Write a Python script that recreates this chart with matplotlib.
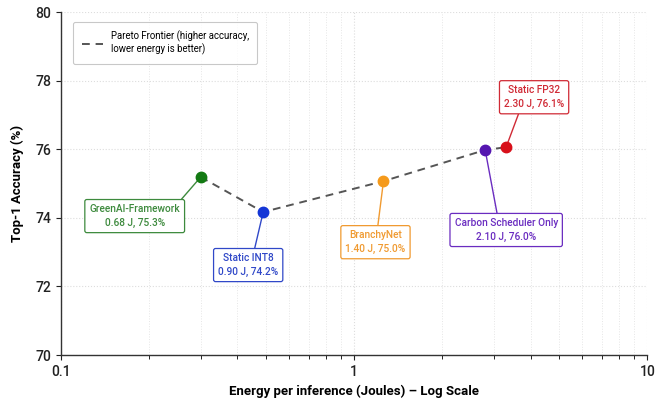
import matplotlib
matplotlib.use("Agg")
import matplotlib.pyplot as plt
from matplotlib.ticker import LogLocator, NullFormatter

plt.rcParams['font.family'] = ['Roboto', 'Liberation Sans', 'DejaVu Sans']

# methods along the frontier (order of the dashed line)
methods = ["GreenAI-Framework", "Static INT8", "BranchyNet", "Carbon Scheduler Only", "Static FP32"]
# plotted positions
energy_plot = [0.30, 0.49, 1.26, 2.80, 3.30]
acc_plot = [75.19, 74.17, 75.07, 75.98, 76.06]
# values written in the labels
energy_text = [0.68, 0.90, 1.40, 2.10, 2.30]
acc_text = [75.3, 74.2, 75.0, 76.0, 76.1]

point_colors = ["#137a13", "#1436d6", "#f59a1b", "#5516b0", "#d8101a"]
text_colors = ["#3d8a3d", "#3048c8", "#f09a30", "#6a2cc0", "#d02a35"]
# label offsets in pixels and where the connector leaves the box
offsets = [(-66, -39), (-15, -53), (-8, -61), (21, -80), (28, 50)]
relpos = [(0.97, 1.0), (0.59, 1.0), (0.53, 1.0), (0.42, 1.0), (0.27, 0.0)]

fig = plt.figure(figsize=(6.68, 4.03), dpi=100)
ax = fig.add_axes([0.091, 0.119, 0.878, 0.851])

ax.plot(energy_plot, acc_plot, linestyle=(0, (4, 3)), color="#555555", lw=1.4,
        label="Pareto Frontier (higher accuracy,\nlower energy is better)", zorder=2)

for i, m in enumerate(methods):
    ax.plot(energy_plot[i], acc_plot[i], 'o', color=point_colors[i], markersize=7.5, zorder=4)
    ax.annotate(f"{m}\n{energy_text[i]:.2f} J, {acc_text[i]:.1f}%",
                xy=(energy_plot[i], acc_plot[i]), xytext=offsets[i],
                textcoords='offset pixels', ha='center', va='center',
                fontsize=7.3, fontweight='medium', color=text_colors[i], linespacing=1.5,
                bbox=dict(boxstyle='round,pad=0.45,rounding_size=0.2', fc='white',
                          ec=text_colors[i], lw=0.9),
                arrowprops=dict(arrowstyle='-', color=text_colors[i], lw=1,
                                relpos=relpos[i], shrinkA=0, shrinkB=0),
                zorder=3)

ax.set_xscale('log')
ax.set_xlim(0.1, 10)
ax.set_ylim(70, 80)
ax.set_xticks([0.1, 1, 10])
ax.set_xticklabels(["0.1", "1", "10"])
ax.xaxis.set_minor_locator(LogLocator(base=10, subs=range(2, 10)))
ax.xaxis.set_minor_formatter(NullFormatter())
ax.set_yticks([70, 72, 74, 76, 78, 80])

ax.grid(which='major', linestyle=':', color='#dddddd', lw=0.8)
ax.grid(which='minor', axis='x', linestyle=':', color='#e6e6e6', lw=0.7)
ax.set_axisbelow(True)

for s in ['top', 'right']:
    ax.spines[s].set_visible(False)
for s in ['left', 'bottom']:
    ax.spines[s].set_color('#333333')
    ax.spines[s].set_linewidth(1.0)
ax.tick_params(axis='both', labelsize=10, colors='#222222')
for lbl in ax.get_xticklabels() + ax.get_yticklabels():
    lbl.set_fontweight('medium')
ax.tick_params(which='minor', length=3)

ax.set_xlabel("Energy per inference (Joules) – Log Scale", fontsize=9.5, fontweight='bold', labelpad=4)
ax.set_ylabel("Top-1 Accuracy (%)", fontsize=9.5, fontweight='bold', labelpad=8)

leg = ax.legend(loc='upper left', bbox_to_anchor=(0.013, 0.985), fontsize=6.9, frameon=True,
                fancybox=True, edgecolor='#bbbbbb', handlelength=2.2, borderpad=0.9)
leg.get_frame().set_linewidth(0.8)

fig.savefig("out.png", dpi=100)
